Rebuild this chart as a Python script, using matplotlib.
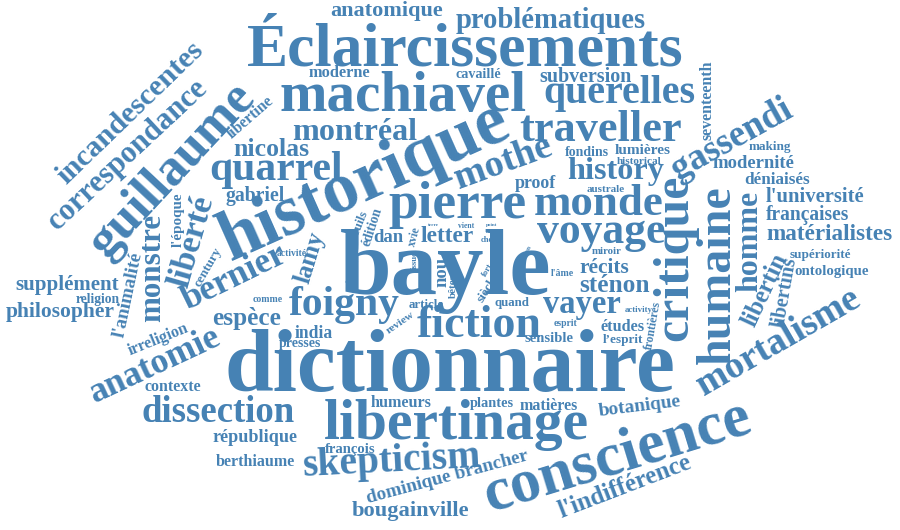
import matplotlib
matplotlib.use('Agg')
import matplotlib.pyplot as plt

# words of the cloud, in the order they are drawn
words = [
    'Éclaircissements', 'machiavel', 'querelles', 'problématiques', 'anatomique',
    'moderne', 'cavaillé', 'subversion', 'montréal', 'traveller', 'nicolas',
    'fondins', 'lumières', 'historical', 'history', 'proof', 'australe',
    'making', 'modernité', 'déniaisés', "l'université", 'françaises',
    'matérialistes', 'supériorité', 'ontologique', 'pierre', 'monde', 'voyage',
    'récits', 'miroir', 'sténon', 'vayer', 'activity', 'esprit', 'études',
    'l’esprit', 'sensible', "l'âme", 'xvie', 'terre', 'vient', 'point', 'même',
    'chez', 'letter', 'dan', 'bayle', 'article', 'quand', 'fiction',
    'dictionnaire', 'libertinage', 'humeurs', 'plantes', 'matières',
    'skepticism', 'françois', 'bougainville', 'berthiaume', 'république',
    'dissection', 'contexte', 'supplément', 'religion', 'philosopher',
    'gabriel', 'quarrel', 'foigny', 'comme', 'activité', 'espèce', 'india',
    'presses',
    'historique', 'guillaume', 'correspondance', 'incandescentes', 'libertine',
    'mothe', 'gassendi', 'seventeenth', 'libertins', 'libertin', 'homme',
    'humaine', 'critique', 'frontières', 'jean', 'xvie', 'issue', 'entre',
    'fort', 'siècles', 'bêtes', 'nou', 'édition', 'seuils', 'vision', 'review',
    'botanique', 'conscience', 'mortalisme', "l'indifférence",
    'dominique brancher', 'anatomie', 'irreligion', "l'animalité", 'monstre',
    "l'époque", 'liberté', 'century', 'bernier', 'lamy',
]

# layout: centre x, centre y (pixels from top-left), length along the word, angle
layout = [
    (465, 50, 464, 0), (403, 97, 263, 0), (619, 93, 162, 0), (551, 20, 203, 0),
    (387, 11, 120, 0), (339, 73, 66, 0), (478, 75, 48, 0), (586, 77, 98, 0),
    (355, 132, 133, 0), (601, 130, 173, 0), (271, 149, 81, 0), (587, 153, 47, 0),
    (643, 150, 60, 0), (639, 162, 48, 0), (616, 172, 103, 0), (535, 184, 44, 0),
    (606, 190, 38, 0), (770, 147, 45, 0), (753, 163, 87, 0), (777, 180, 70, 0),
    (815, 197, 105, 0), (808, 215, 89, 0), (830, 235, 134, 0), (820, 255, 65, 0),
    (832, 271, 79, 0), (457, 205, 147, 0), (599, 204, 138, 0), (601, 232, 137, 0),
    (604, 268, 53, 0), (607, 252, 30, 0), (614, 286, 75, 0), (582, 305, 83, 0),
    (639, 310, 28, 0), (565, 324, 24, 0), (623, 327, 47, 0), (623, 340, 43, 0),
    (549, 338, 52, 0), (562, 273, 23, 0), (497, 258, 14, 0), (433, 225, 11, 0),
    (466, 226, 16, 0), (491, 225, 11, 0), (493, 232, 14, 0), (489, 240, 16, 0),
    (447, 236, 57, 0), (388, 238, 30, 0), (446, 271, 225, 0), (426, 305, 35, 0),
    (512, 303, 35, 0), (479, 326, 133, 0), (450, 370, 480, 0), (456, 425, 282, 0),
    (401, 403, 65, 0), (492, 403, 47, 0), (549, 406, 62, 0), (392, 462, 190, 3),
    (350, 450, 54, 0), (410, 511, 125, 0), (255, 462, 84, 0), (255, 437, 90, 0),
    (218, 413, 163, 0), (173, 387, 60, 0), (67, 285, 110, 0), (98, 300, 47, 0),
    (60, 312, 116, 0), (255, 196, 63, 0), (276, 170, 142, 0), (344, 305, 118, 0),
    (268, 300, 30, 0), (292, 253, 30, 0), (247, 318, 73, 0), (314, 333, 38, 0),
    (300, 343, 45, 0),
    (365, 182, 330, 24), (172, 170, 235, 47), (128, 155, 220, 43),
    (130, 113, 205, 44), (250, 117, 60, 41), (503, 163, 108, 20),
    (732, 139, 142, 29), (707, 100, 85, 90), (785, 292, 75, 80),
    (765, 290, 83, 65), (750, 241, 108, 90), (718, 275, 190, 90),
    (675, 258, 177, 90), (653, 325, 52, 80), (527, 252, 13, 60),
    (415, 237, 20, 75), (415, 260, 18, 90), (475, 258, 15, 80),
    (488, 270, 14, 60), (489, 287, 35, 58), (453, 286, 24, 90),
    (442, 272, 30, 90), (372, 227, 40, 72), (359, 225, 30, 68),
    (354, 275, 30, 80), (400, 323, 32, 35), (640, 407, 88, 7),
    (618, 457, 295, 17), (778, 342, 195, 30), (625, 487, 150, 21),
    (447, 477, 178, 15), (155, 365, 150, 25), (158, 340, 68, 22),
    (128, 295, 92, 78), (153, 268, 115, 90), (178, 220, 58, 90),
    (192, 242, 100, 74), (208, 267, 46, 60), (235, 278, 120, 26),
    (310, 257, 56, 73),
]

color = '#4682B4'
font = dict(family='Liberation Serif', weight='bold')
# the reference face is wider than Liberation Serif: shrink the larger words a bit
fit = 0.94

fig = plt.figure(figsize=(9, 5.3), dpi=100)
ax = fig.add_axes([0, 0, 1, 1])
ax.set_xlim(0, 900)
ax.set_ylim(530, 0)
ax.axis('off')

renderer = fig.canvas.get_renderer()
ref_size = 50
for word, (cx, cy, span, angle) in zip(words, layout):
    t = ax.text(cx, cy, word, fontsize=ref_size, color=color,
                ha='center', va='center', rotation_mode='anchor', **font)
    w = t.get_window_extent(renderer).width
    k = fit if span > 40 else 1.0
    t.set_fontsize(k * ref_size * span / w)
    t.set_rotation(angle)

fig.savefig('out.png', dpi=100, facecolor='white')
